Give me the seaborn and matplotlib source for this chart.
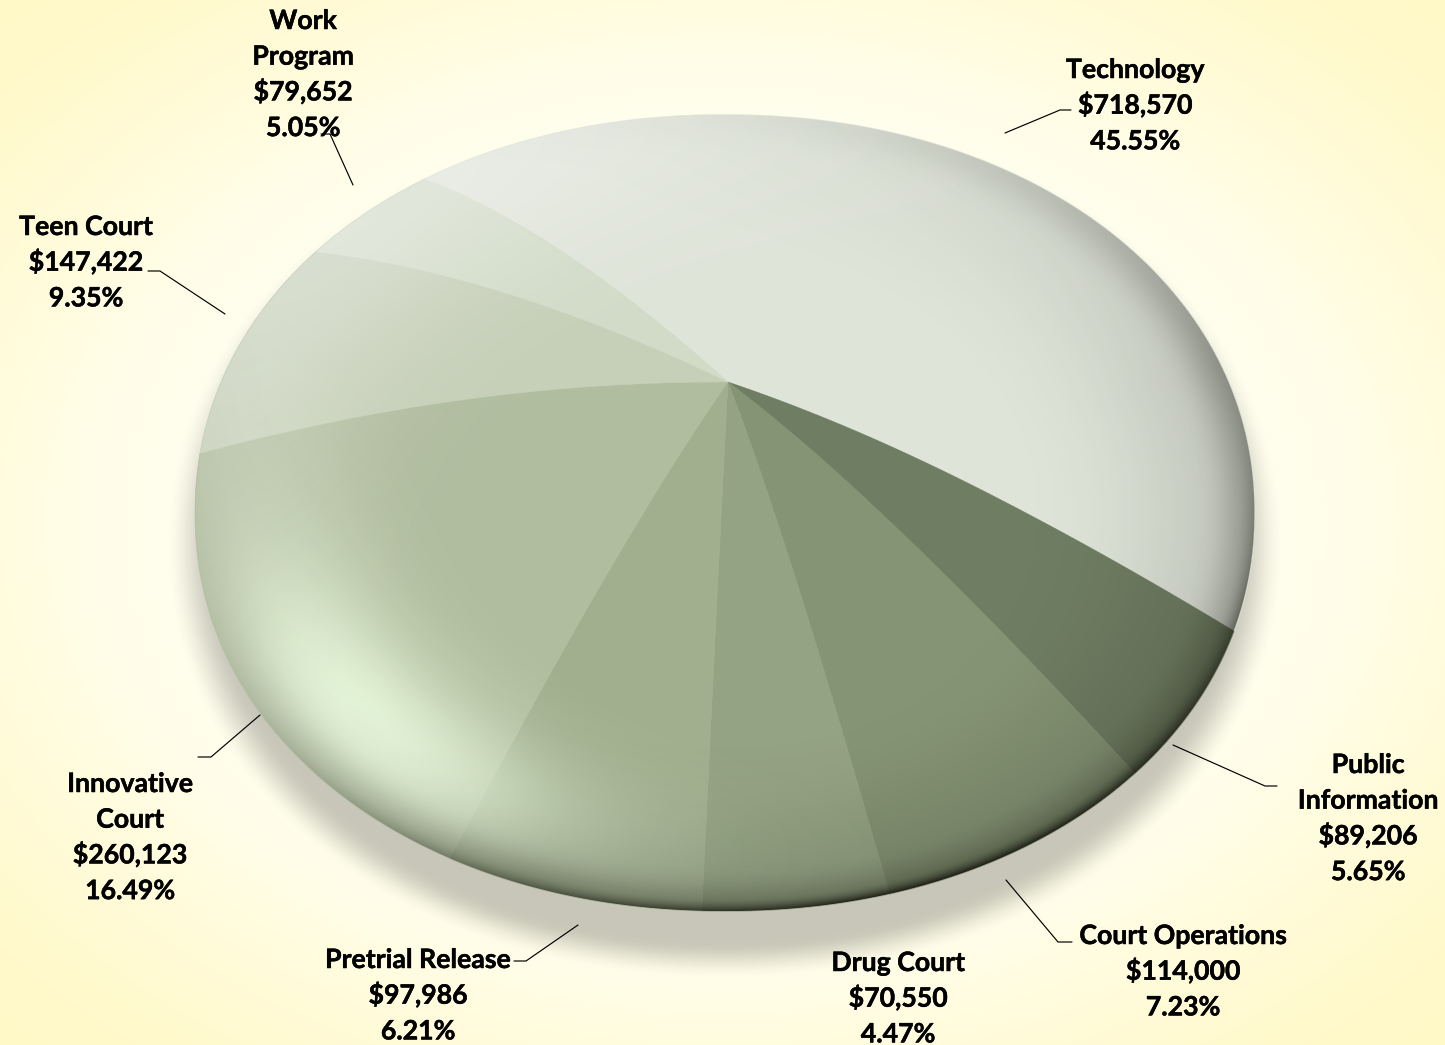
import numpy as np
import matplotlib
matplotlib.use("Agg")
import matplotlib.pyplot as plt
import matplotlib.patheffects as pe
import seaborn as sns

# Budget slices, listed clockwise from the top-left edge of Technology
categories = ["Technology", "Public Information", "Court Operations", "Drug Court",
              "Pretrial Release", "Innovative Court", "Teen Court", "Work Program"]
amounts = [718570, 89206, 114000, 70550, 97986, 260123, 147422, 79652]
slice_colors = ["#DFE4D9", "#6F7D62", "#859474", "#94A383",
                "#A1AF8F", "#B1BD9F", "#C6CFB8", "#D2DBC8"]
label_lines = [["Technology"], ["Public", "Information"], ["Court Operations"], ["Drug Court"],
               ["Pretrial Release"], ["Innovative", "Court"], ["Teen Court"], ["Work", "Program"]]

W, H = 1445, 1045

# Label anchors: centre x and first baseline y
label_pos = [(1135, 78), (1368, 773), (1183, 944), (898, 971),
             (418, 968), (130, 792), (86, 235), (303, 29)]
leaders = [[(1005, 133), (1060, 110), (1071, 110)],
           [(1173, 745), (1265, 786), (1277, 786)],
           [(1006, 880), (1058, 942), (1072, 942)],
           None,
           [(578, 925), (526, 961), (514, 961)],
           [(260, 715), (211, 757), (198, 757)],
           [(225, 314), (160, 271), (148, 271)],
           [(353, 185), (330, 134), (321, 134)]]

# Rim outline of the tilted disc and the height of its domed centre
CX, CY, RX, RY = 725.0, 513.0, 530.0, 398.5
SQUARE = 2.08
LIFT, BULGE = 30.0, 42.0
START_ANGLE = 133.3
SKEW_DEG = 1.45

sns.set_theme(style="white")
plt.rcParams["font.family"] = ["Lato", "DejaVu Sans"]
palette = sns.color_palette(slice_colors)

top, bottom = CY - RY, CY + RY
flat_y = 382.0 + LIFT
up, down = flat_y - top, bottom - flat_y
K = (down - up) / (down + up)
A = up * (1 + K)
B = RX * np.sqrt(1 - K ** 2)
total = sum(amounts)
LARGEST_SWEEP = 360.0 * amounts[0] / total


def rim_norm(dx, dy):
    return (np.abs(dx) ** SQUARE + np.abs(dy) ** SQUARE) ** (1 / SQUARE)


def skew(theta):
    """Ease the angles of the smaller slices round the near side of the disc."""
    span = 360.0 - LARGEST_SWEEP
    frac = np.clip(np.mod(np.degrees(theta) - START_ANGLE, 360.0) / span, 0, 1)
    return theta + np.radians(SKEW_DEG) * np.sin(np.pi * frac)


def project(r, theta):
    """Map polar disc coordinates to the page through tilt plus dome lift."""
    theta = skew(theta)
    u, v = r * np.cos(theta), r * np.sin(theta)
    w = 1 + K * v
    x = CX + B * u / w + 3.0 * (1 - r ** 2)
    y = flat_y - A * v / w - LIFT * (1 - r ** 2) - BULGE * r * (1 - r)
    dx, dy = (x - CX) / RX, (y - CY) / RY
    ell = np.maximum(np.hypot(dx, dy), 1e-6)
    grow = (ell / np.maximum(rim_norm(dx, dy), 1e-6)) ** (r ** 2)
    return CX + (x - CX) * grow, CY + (y - CY) * grow


def smooth(a, b, t):
    s = np.clip((t - a) / (b - a), 0, 1)
    return s * s * (3 - 2 * s)


def overlay(rgb, alpha, zorder):
    layer = np.zeros((H, W, 4))
    layer[..., :3] = np.array(rgb)
    layer[..., 3] = alpha
    ax.imshow(layer, extent=(0, W, H, 0), aspect="auto", zorder=zorder, interpolation="nearest")


fig = plt.figure(figsize=(W / 100, H / 100), dpi=100)
ax = fig.add_axes([0, 0, 1, 1])

yy, xx = np.mgrid[0:H, 0:W] + 0.5
nx, ny = (xx - CX) / RX, (yy - CY) / RY
rho = rim_norm(nx, ny)
phi = np.arctan2(ny, nx)

# Page background: pale centre fading to warm yellow towards the corners
dist = np.hypot((xx - 722) / 722, (yy - 522) / 522) / np.sqrt(2)
fade = smooth(0.45, 1.02, dist)[..., None]
bg = (1 - fade) * np.array([1.0, 1.0, 0.945]) + fade * np.array([1.0, 0.975, 0.78])
ax.imshow(bg, extent=(0, W, H, 0), aspect="auto", zorder=0, interpolation="nearest")

# Soft drop shadow under the disc
s_rho = rim_norm((xx - 725) / 535, (yy - 545) / 415)
overlay((0.30, 0.30, 0.27), 0.31 * (1 - smooth(0.955, 1.045, s_rho)), 1)

# Slices
r_grid = np.linspace(0, 1, 60)
angle = START_ANGLE
for value, color in zip(amounts, palette):
    sweep = 360.0 * value / total
    arc = np.radians(np.linspace(angle, angle - sweep, max(int(sweep * 2), 8)))
    x_out, y_out = project(r_grid, np.full_like(r_grid, arc[0]))
    x_arc, y_arc = project(np.ones_like(arc), arc)
    x_in, y_in = project(r_grid[::-1], np.full_like(r_grid, arc[-1]))
    ax.fill(np.r_[x_out, x_arc, x_in], np.r_[y_out, y_arc, y_in],
            facecolor=color, edgecolor=color, linewidth=0.3, zorder=2)
    angle -= sweep

# Lighting over the disc: glow low on the left, pale upper-left rim, dark lower-right bevel
inside = np.clip((1 - rho) * RX * 0.85, 0, 1)
d_glow = np.angle(np.exp(1j * (phi - np.radians(142.0))))
glow = 0.97 * np.exp(-((rho - 0.85) / 0.17) ** 2) * np.exp(-(d_glow / np.radians(33)) ** 2)
overlay((0.94, 1.0, 0.89), np.clip(glow, 0, 0.95) * inside, 3)

d_pale = np.angle(np.exp(1j * (phi - np.radians(-135.0))))
pale = 0.34 * np.exp(-((rho - 1.0) / 0.28) ** 2) * np.exp(-(d_pale / np.radians(48)) ** 2)
overlay((1.0, 1.0, 1.0), pale * inside, 3.5)

ux, uy = np.cos(phi), np.sin(phi)
soft_face = np.clip((0.7 * ux + 0.7 * uy + 1) / 1.4, 0, 1)
hard_face = np.clip((0.45 * ux + 0.9 * uy + 1) / 2, 0, 1)
wide = smooth(0.45, 1.0, rho) ** 2 * 0.15
bevel = smooth(0.86, 1.0, rho) ** 2 * 0.24
edge = np.clip((rho - 0.965) / 0.035, 0, 1) ** 2 * 0.62
alpha_dark = (wide + bevel) * soft_face ** 1.5 + edge * hard_face ** 5
overlay((0.10, 0.10, 0.07), np.clip(alpha_dark, 0, 0.9) * inside, 4)

# Leader lines
for pts in leaders:
    if pts:
        ax.plot(*zip(*pts), color="black", linewidth=0.85, zorder=5, solid_joinstyle="miter")

# Data labels: name lines, then dollar amount and share
PITCH = 35.7
for value, lines, (cx, base) in zip(amounts, label_lines, label_pos):
    rows = lines + [f"${value:,}", f"{100 * value / total:.2f}%"]
    for i, row in enumerate(rows):
        ax.text(cx, base + i * PITCH, row, ha="center", va="baseline",
                fontsize=19.2, fontweight="bold", color="black", zorder=6,
                path_effects=[pe.withStroke(linewidth=0.35, foreground="black")])

ax.set_xlim(0, W)
ax.set_ylim(H, 0)
ax.axis("off")
fig.savefig("out.png", dpi=100)
